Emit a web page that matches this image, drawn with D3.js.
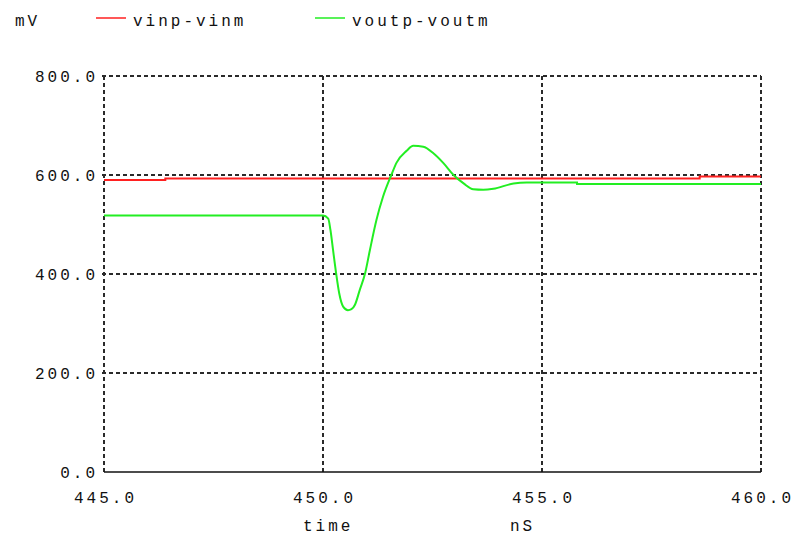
<!DOCTYPE html>
<html>
<head>
<meta charset="utf-8">
<script src="https://cdn.jsdelivr.net/npm/d3@7"></script>
<style>
  html, body { margin: 0; padding: 0; background: #ffffff; }
  svg text { font-family: "Liberation Mono", "Courier New", monospace; font-size: 16px; fill: #111; letter-spacing: 3px; }
</style>
</head>
<body>
<svg id="chart" width="795" height="537"></svg>
<script>
// Transient response: differential input vs differential output
const xTicks = [445, 450, 455, 460];
const yTicks = [0, 200, 400, 600, 800];

const vinTime = [445, 446.4, 446.4, 458.6, 458.6, 460];
const vinMv   = [590, 590, 593, 593, 597, 597];

const voutTime = [445, 450.0, 450.12, 450.17, 450.23, 450.30, 450.37, 450.46, 450.57, 450.65, 450.73,
  450.84, 450.96, 451.07, 451.22, 451.37, 451.56, 451.68, 451.91, 452.06, 452.29, 452.52,
  452.75, 452.98, 453.21, 453.43, 453.66, 453.89, 454.35, 454.65, 455.8, 455.8, 460];
const voutMv   = [518, 518, 512, 489, 448, 401, 361, 334, 327, 329, 338,
  368, 401, 448, 509, 556, 600, 625, 649, 659, 657, 644,
  624, 600, 583, 571, 570, 572, 583, 585, 585, 582, 582];

const svg = d3.select("#chart");
const plotLeft = 104, plotRight = 761, plotTop = 76, plotBottom = 472;

const x = d3.scaleLinear().domain([445, 460]).range([plotLeft, plotRight]);
const y = d3.scaleLinear().domain([0, 800]).range([plotBottom, plotTop]);

const grid = svg.append("g")
  .attr("stroke", "#2a2a2a").attr("stroke-width", 2).attr("stroke-dasharray", "4,3").attr("fill", "none");

// horizontal grid (skip zero, which is the solid baseline)
yTicks.filter(v => v > 0).forEach(v => {
  grid.append("line").attr("x1", plotLeft - 2).attr("x2", plotRight).attr("y1", y(v)).attr("y2", y(v));
});
// vertical grid incl. left and right edges
xTicks.forEach(v => {
  grid.append("line").attr("x1", x(v)).attr("x2", x(v)).attr("y1", plotTop).attr("y2", plotBottom);
});

// solid baseline
svg.append("line").attr("x1", plotLeft).attr("x2", plotRight).attr("y1", y(0)).attr("y2", y(0))
  .attr("stroke", "#111").attr("stroke-width", 1.5);

// y tick labels
svg.append("g").selectAll("text").data(yTicks).join("text")
  .attr("x", 98).attr("y", d => y(d)).attr("dy", "0.35em").attr("text-anchor", "end")
  .text(d => d3.format(".1f")(d));

// x tick labels
svg.append("g").selectAll("text").data(xTicks).join("text")
  .attr("x", d => x(d) + 1.5).attr("y", 503).attr("text-anchor", "middle")
  .text(d => d3.format(".1f")(d));

// axis titles
svg.append("text").attr("x", 303).attr("y", 531).text("time");
svg.append("text").attr("x", 510).attr("y", 531).text("nS");
svg.append("text").attr("x", 15).attr("y", 26).text("mV");

// legend
svg.append("line").attr("x1", 96).attr("x2", 126).attr("y1", 18).attr("y2", 18)
  .attr("stroke", "#ff2020").attr("stroke-width", 1.5);
svg.append("text").attr("x", 133).attr("y", 26).text("vinp-vinm");
svg.append("line").attr("x1", 315).attr("x2", 345).attr("y1", 18).attr("y2", 18)
  .attr("stroke", "#22ee22").attr("stroke-width", 1.5);
svg.append("text").attr("x", 352).attr("y", 26).text("voutp-voutm");

const line = d3.line().x(d => x(d[0])).y(d => y(d[1])).curve(d3.curveMonotoneX);

svg.append("path")
  .datum(vinTime.map((t, i) => [t, vinMv[i]]))
  .attr("d", d3.line().x(d => x(d[0])).y(d => y(d[1])))
  .attr("fill", "none").attr("stroke", "#ff2020").attr("stroke-width", 2);

svg.append("path")
  .datum(voutTime.map((t, i) => [t, voutMv[i]]))
  .attr("d", line)
  .attr("fill", "none").attr("stroke", "#22ee22").attr("stroke-width", 2);
</script>
</body>
</html>
